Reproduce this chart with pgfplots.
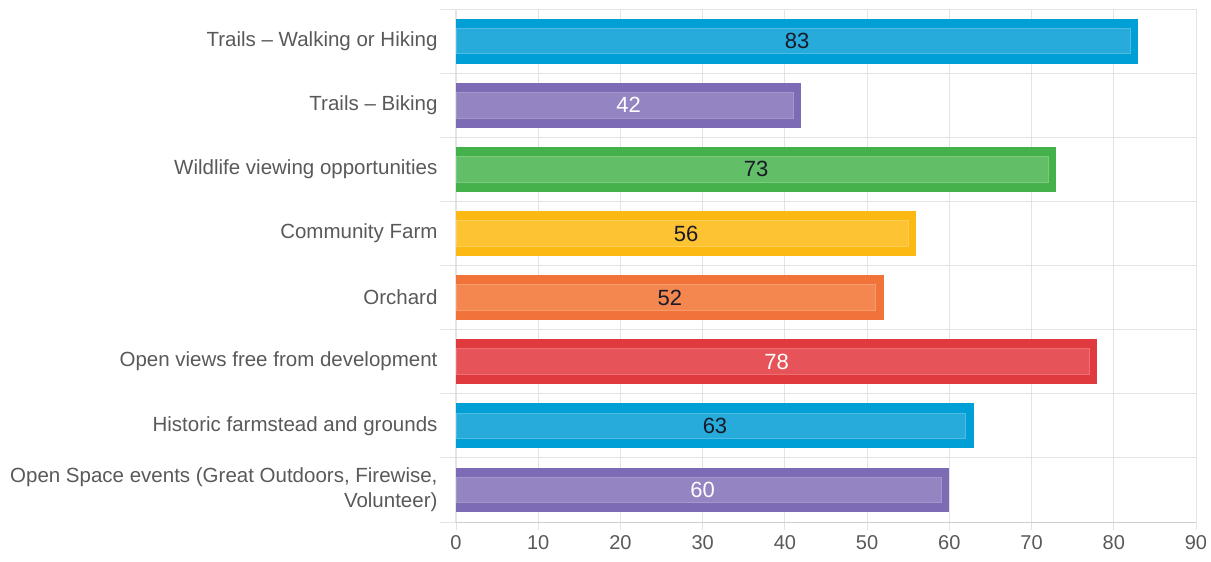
\documentclass[border=0pt]{standalone}
\usepackage{fontspec}
\setmainfont{Liberation Sans}
\usepackage{pgfplots}
\pgfplotsset{compat=1.18}
\definecolor{lbl}{HTML}{595959}
\definecolor{gridc}{HTML}{E3E3E3}
\definecolor{bluB}{HTML}{009FD6}\definecolor{bluF}{HTML}{26ABDA}\definecolor{bluL}{HTML}{4DBBE2}
\definecolor{purB}{HTML}{7E6BB5}\definecolor{purF}{HTML}{9584C2}\definecolor{purL}{HTML}{A596CB}
\definecolor{grnB}{HTML}{45B14B}\definecolor{grnF}{HTML}{62BF67}\definecolor{grnL}{HTML}{7ACB7E}
\definecolor{ylwB}{HTML}{FDB913}\definecolor{ylwF}{HTML}{FDC332}\definecolor{ylwL}{HTML}{FDCD55}
\definecolor{orgB}{HTML}{F2733A}\definecolor{orgF}{HTML}{F4874F}\definecolor{orgL}{HTML}{F69B6B}
\definecolor{redB}{HTML}{E0393E}\definecolor{redF}{HTML}{E65358}\definecolor{redL}{HTML}{EB6F73}
\definecolor{darktxt}{HTML}{1A1A2A}
% #1 y, #2 value, #3 inner end, #4 half value, #5 colour prefix, #6 text colour
\newcommand\mybar[6]{%
  \addplot[xbar, bar width=0.70, bar shift=0pt, fill=#5B, draw=none] coordinates {(#2,#1)};
  \addplot[xbar, bar width=0.40, bar shift=0pt, fill=#5F, draw=#5L, line width=0.8pt] coordinates {(#3,#1)};
  \addplot[draw=none, mark=none, nodes near coords, point meta=explicit symbolic,
    nodes near coords style={anchor=center, text=#6, font=\fontsize{22}{26}\selectfont}]
    coordinates {(#4,#1) [#2]};
}
\begin{document}
\begin{tikzpicture}
\begin{axis}[
  at={(0,0)}, anchor=south west,
  scale only axis, width=740pt, height=513pt,
  xmin=0, xmax=90, ymin=-0.5, ymax=7.5, y dir=reverse,
  xtick={0,10,...,90},
  ytick={0,...,7},
  yticklabels={Trails -- Walking or Hiking, Trails -- Biking, Wildlife viewing opportunities, Community Farm, Orchard, Open views free from development, Historic farmstead and grounds, {Open Space events (Great Outdoors, Firewise,\\Volunteer)}},
  minor ytick={-0.5,0.5,...,7.5},
  xmajorgrids, yminorgrids,
  major grid style={gridc, line width=0.8pt},
  minor grid style={gridc, line width=0.8pt},
  major x tick style={gridc, line width=0.8pt},
  major y tick style={draw=none},
  minor y tick style={gridc, line width=0.8pt},
  tick align=outside, major tick length=8pt, minor tick length=16pt,
  axis line style={gridc, line width=1pt},
  axis x line*=bottom, axis y line*=left,
  separate axis lines,
  x axis line style={draw=gridc!80!gray},
  tick label style={text=lbl, font=\fontsize{20}{24}\selectfont},
  yticklabel style={align=right, xshift=-7pt, font=\fontsize{20.5}{24.5}\selectfont},
  xticklabel style={yshift=-2pt},
  /pgf/number format/assume math mode=true,
  clip=false,
]
\mybar{0}{83}{82}{41.5}{blu}{darktxt}
\mybar{1}{42}{41}{21}{pur}{white}
\mybar{2}{73}{72}{36.5}{grn}{darktxt}
\mybar{3}{56}{55}{28}{ylw}{darktxt}
\mybar{4}{52}{51}{26}{org}{darktxt}
\mybar{5}{78}{77}{39}{red}{white}
\mybar{6}{63}{62}{31.5}{blu}{darktxt}
\mybar{7}{60}{59}{30}{pur}{white}
\end{axis}
\pgfresetboundingbox
\path (-456pt,-40pt) rectangle (755pt,522pt);
\end{tikzpicture}
\end{document}
